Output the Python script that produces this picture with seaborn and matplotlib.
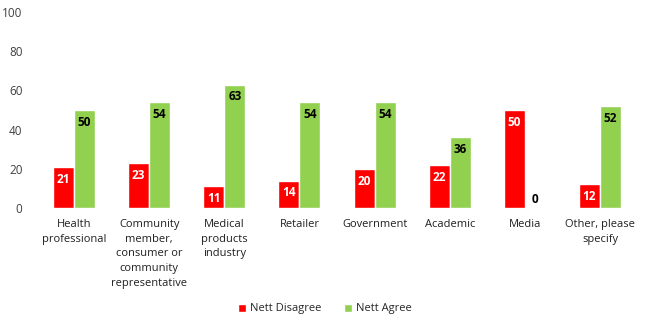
import matplotlib
matplotlib.use("Agg")
import matplotlib.pyplot as plt
import seaborn as sns
import pandas as pd

categories = ["Health\nprofessional", "Community\nmember,\nconsumer or\ncommunity\nrepresentative",
              "Medical\nproducts\nindustry", "Retailer", "Government", "Academic", "Media",
              "Other, please\nspecify"]
nett_disagree = [21, 23, 11, 14, 20, 22, 50, 12]
nett_agree = [50, 54, 63, 54, 54, 36, 0, 52]
series = ["Nett Disagree", "Nett Agree"]
colors = ["#FF0000", "#92D050"]

df = pd.DataFrame({
    "category": categories * 2,
    "value": nett_disagree + nett_agree,
    "series": [series[0]] * len(categories) + [series[1]] * len(categories),
})

sns.set_style("white")
plt.rcParams['font.family'] = ['Open Sans', 'DejaVu Sans']

fig = plt.figure(figsize=(6.5, 3.24), dpi=100)
ax = fig.add_axes([36.4 / 650, 116 / 324, (637.6 - 36.4) / 650, 196 / 324])
sns.barplot(data=df, x="category", y="value", hue="series", palette=colors,
            width=0.56, gap=0, ax=ax, legend=False, saturation=1)

ax.set_ylim(0, 100)
ax.set_xlim(-0.5, len(categories) - 0.5)
ax.set_yticks([0, 20, 40, 60, 80, 100])
ax.tick_params(axis='y', labelsize=8.5, colors="#404040", length=0, pad=10)
ax.tick_params(axis='x', labelsize=8, colors="#202020", length=0, pad=8)
for lbl in ax.get_xticklabels():
    lbl.set_linespacing(1.45)
ax.set_xlabel("")
ax.set_ylabel("")
for s in ax.spines.values():
    s.set_visible(False)
ax.grid(False)

for i, cont in enumerate(ax.containers):
    for bar, v in zip(cont, (nett_disagree, nett_agree)[i]):
        x = bar.get_x() + bar.get_width() / 2
        h = bar.get_height()
        if v == 0:
            ax.text(x, h + 1, f"{v}", ha="center", va="bottom", fontsize=8.5,
                    fontweight="bold", color="black")
        else:
            ax.text(x, h - 3, f"{v}", ha="center", va="top", fontsize=8.5,
                    fontweight="bold", color="white" if i == 0 else "black")

from matplotlib.patches import Patch
handles = [Patch(facecolor=c, label=l) for c, l in zip(colors, series)]
fig.legend(handles=handles, loc="center", bbox_to_anchor=(0.5, 15 / 324), ncol=2,
           frameon=False, fontsize=8, handlelength=0.7, handleheight=0.7,
           handletextpad=0.4, columnspacing=2.0)

fig.savefig("out.png", dpi=100)
